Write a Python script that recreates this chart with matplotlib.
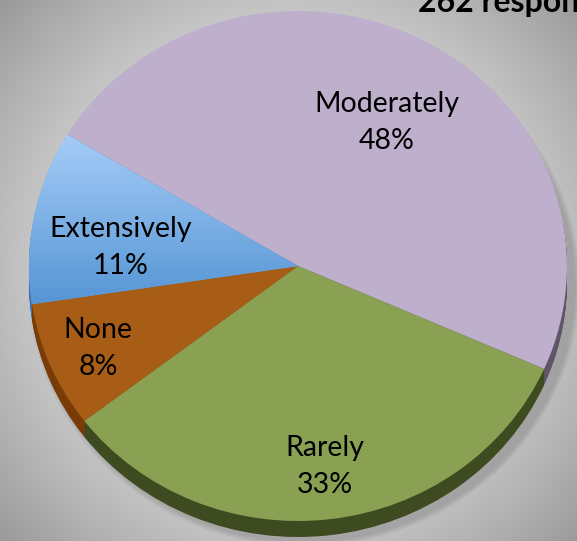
import numpy as np
import matplotlib
matplotlib.use("Agg")
import matplotlib.pyplot as plt
from matplotlib.patches import Ellipse
from matplotlib.transforms import Affine2D
from matplotlib.colors import LinearSegmentedColormap

categories = ["Moderately", "Rarely", "None", "Extensively"]
values = [48, 33, 8, 11]
pct_labels = ["48%", "33%", "8%", "11%"]
title_text = "262 responses"

top_colors = ["#beafcd", "#8aa154", "#a85d16", "#7fb0ea"]
rim_colors = ["#5f5468", "#3e4a1f", "#7a3c06", "#3f6fa8"]

W, H = 577, 541
fig = plt.figure(figsize=(W / 100, H / 100), dpi=100)
ax = fig.add_axes([0, 0, 1, 1])
ax.set_xlim(0, W)
ax.set_ylim(0, H)
ax.axis("off")

# background radial gradient
yy, xx = np.mgrid[0:H, 0:W]
r = np.sqrt(((xx - 290) / 330.0) ** 2 + ((yy - 270) / 330.0) ** 2)
bg = np.clip(0.95 - 0.26 * r ** 1.6, 0.6, 1)
ax.imshow(np.dstack([bg, bg, bg]), extent=[0, W, 0, H], origin="lower", zorder=0)

cx, cy = 298, H - 266
rx, ry = 269, 255
depth = 16


def ell(offset):
    return Affine2D().scale(1, ry / rx).translate(cx, cy - offset) + ax.transData

# soft shadow
for k in range(6):
    sh = Ellipse((cx + 6, cy - depth - 3), 2 * rx + 4 + 2 * k, 2 * ry + 4 + 2 * k,
                 color="black", alpha=0.025, lw=0, zorder=1)
    ax.add_patch(sh)

# rim layers
for off in range(depth, 0, -1):
    wedges, _ = ax.pie(values, colors=rim_colors, startangle=149, counterclock=False,
                       radius=rx, center=(0, 0), frame=False,
                       wedgeprops=dict(linewidth=0))
    for w in wedges:
        w.set_transform(ell(off))
        w.set_zorder(2)

# top surface
wedges, _ = ax.pie(values, colors=top_colors, startangle=149, counterclock=False,
                   radius=rx, center=(0, 0), frame=False,
                   wedgeprops=dict(linewidth=0))
for w in wedges:
    w.set_transform(ell(0))
    w.set_zorder(3)

# gradient for Extensively wedge
blue = LinearSegmentedColormap.from_list("b", ["#5595d4", "#aacffa"])
grad = np.linspace(0, 1, 256).reshape(-1, 1)
im = ax.imshow(grad, cmap=blue, extent=[20, 300, H - 305, H - 125], origin="lower",
               aspect="auto", zorder=4)
im.set_clip_path(wedges[3])

ax.set_xlim(0, W)
ax.set_ylim(0, H)
ax.set_aspect("auto")

font = "Lato"
fs = 20.5
label_pos = [(387, 104), (325, 448), (98, 330), (121, 229)]
for (x, y), c, p in zip(label_pos, categories, pct_labels):
    ax.text(x, H - y, c, ha="center", va="center", fontsize=fs, family=font, zorder=6)
    ax.text(x, H - y - 37, p, ha="center", va="center", fontsize=fs, family=font, zorder=6)

ax.text(418, H - 12, title_text, ha="left", va="baseline", fontsize=23,
        fontweight="bold", family=font, zorder=6)

fig.savefig("out.png", dpi=100)
